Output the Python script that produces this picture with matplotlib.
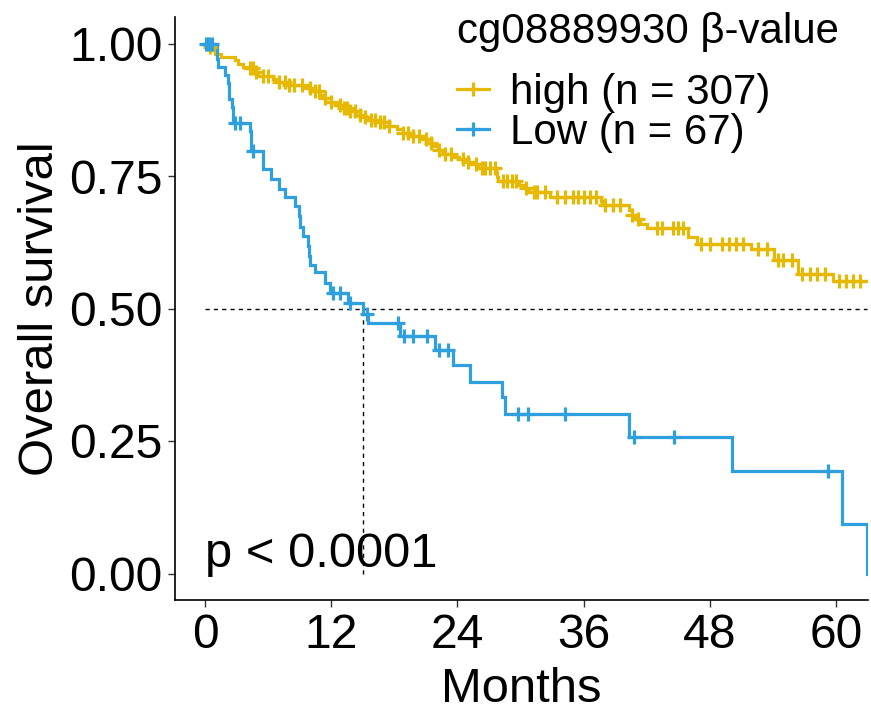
import numpy as np
import matplotlib
matplotlib.use("Agg")
import matplotlib.pyplot as plt
from matplotlib.lines import Line2D

plt.rcParams['font.family'] = ['Liberation Sans', 'DejaVu Sans']

# ---------------- data ----------------
legend_title = "cg08889930 β-value"
group_labels = ["high (n = 307)", "Low (n = 67)"]
group_colors = ["#E7B800", "#2E9FDF"]

high_times = [0, 0.3, 0.6, 1.0, 1.5, 2.9, 3.1, 3.6, 4.0, 4.8, 5.0, 6.5, 7.0, 8.0, 9.7,
              10.2, 10.9, 11.3, 12.0, 12.6, 13.1, 13.8, 14.4, 15.2, 15.7, 16.6, 17.5,
              18.3, 18.8, 19.6, 20.5, 21.1, 21.7, 22.2, 22.6, 23.5, 24.2, 25.0, 25.5,
              26.0, 27.7, 27.8, 27.9, 29.9, 30.4, 30.8, 32.8, 37.7, 37.8, 40.3, 40.6,
              40.9, 41.4, 42.0, 45.9, 46.8, 51.9, 54.1, 56.4, 59.7]
high_surv = [1.0, 0.993, 0.987, 0.980, 0.975, 0.968, 0.962, 0.956, 0.953, 0.946, 0.939,
             0.933, 0.927, 0.922, 0.916, 0.910, 0.903, 0.897, 0.890, 0.884, 0.878, 0.872,
             0.866, 0.861, 0.855, 0.851, 0.845, 0.838, 0.832, 0.826, 0.820, 0.813, 0.806,
             0.800, 0.792, 0.786, 0.782, 0.776, 0.772, 0.766, 0.757, 0.748, 0.740, 0.733,
             0.727, 0.720, 0.710, 0.703, 0.695, 0.686, 0.677, 0.668, 0.660, 0.652, 0.634,
             0.621, 0.612, 0.592, 0.565, 0.552]
high_censor = [0.2, 0.5, 4.3, 4.6, 4.9, 5.5, 6.0, 7.0, 7.6, 8.0, 8.5, 9.2, 10.0, 10.5,
               10.8, 11.4, 12.0, 12.8, 13.2, 13.5, 13.8, 14.3, 14.7, 15.2, 15.8, 16.2,
               16.6, 17.0, 17.5, 18.8, 19.3, 19.8, 20.4, 21.0, 21.5, 22.3, 22.8, 23.4,
               24.5, 25.0, 25.8, 26.3, 26.6, 27.1, 27.6, 28.3, 28.7, 29.2, 29.6, 30.5,
               31.3, 31.6, 32.3, 33.5, 34.2, 35.0, 35.5, 36.0, 36.6, 37.2, 38.0, 38.8,
               39.5, 40.6, 41.2, 43.0, 43.5, 44.5, 45.0, 45.5, 47.2, 48.0, 49.2, 49.8,
               50.5, 51.2, 52.6, 53.4, 54.5, 55.0, 55.8, 56.8, 57.5, 58.2, 59.0, 60.3,
               61.0, 61.6, 62.3]

low_times = [0, 1.1, 1.15, 1.2, 1.9, 2.2, 2.25, 2.3, 2.6, 2.7, 4.3, 4.35, 4.4, 5.5, 5.55,
             6.3, 7.0, 7.6, 8.55, 8.9, 9.0, 9.3, 9.8, 9.85, 10.0, 10.5, 11.4, 11.9, 13.6,
             15.0, 15.5, 18.5, 21.9, 23.6, 25.2, 28.2, 28.5, 40.3, 50.1, 60.6, 62.95]
low_surv = [1.0, 0.985, 0.970, 0.955, 0.940, 0.925, 0.910, 0.895, 0.880, 0.850, 0.834,
            0.816, 0.798, 0.780, 0.763, 0.744, 0.725, 0.710, 0.694, 0.675, 0.653, 0.637,
            0.618, 0.599, 0.583, 0.568, 0.549, 0.530, 0.511, 0.489, 0.472, 0.449, 0.422,
            0.393, 0.362, 0.333, 0.301, 0.258, 0.194, 0.094, 0.0]
low_censor = [0.1, 0.4, 0.7, 2.9, 3.3, 4.6, 12.2, 12.8, 13.8, 15.4, 18.4, 18.9, 19.8,
              21.1, 22.3, 23.1, 29.8, 30.7, 34.2, 40.8, 44.6, 59.2]

follow_up_end = 63.0
median_surv_level = 0.5
median_low_time = 15.0
pval_text = "p < 0.0001"
x_ticks = [0, 12, 24, 36, 48, 60]
y_ticks = [0.00, 0.25, 0.50, 0.75, 1.00]
x_label = "Months"
y_label = "Overall survival"

# ---------------- plot ----------------
W, H, DPI = 871, 713, 100
fig = plt.figure(figsize=(W / DPI, H / DPI), dpi=DPI)
ax = fig.add_axes([175 / W, 1 - 600 / H, (868 - 175) / W, (600 - 17) / H])

def px2pt(px):
    return px * 72.0 / DPI

LW = 2.3
MS = px2pt(14)
MEW = 2.3

def draw_km(times, surv, censor, color, extend_to=None):
    t = list(times)
    s = list(surv)
    if extend_to is not None:
        t.append(extend_to)
        s.append(s[-1])
    ax.step(t, s, where='post', color=color, lw=LW, solid_joinstyle='miter', zorder=3)
    t_arr = np.asarray(times)
    s_arr = np.asarray(surv)
    cs = [s_arr[np.searchsorted(t_arr, c, side='right') - 1] for c in censor]
    ax.plot(censor, cs, ls='none', marker='+', ms=MS, mew=MEW, color=color, zorder=4)

draw_km(high_times, high_surv, high_censor, group_colors[0], extend_to=follow_up_end)
draw_km(low_times, low_surv, low_censor, group_colors[1])

# median line
ax.plot([0, follow_up_end], [median_surv_level, median_surv_level], ls=(0, (3, 3)),
        color='black', lw=1.0, zorder=2)
ax.plot([median_low_time, median_low_time], [0, median_surv_level], ls=(0, (3, 3)),
        color='black', lw=1.0, zorder=2)

ax.set_xlim(-2.85, 63.05)
ax.set_ylim(-0.05, 1.05)
ax.set_xticks(x_ticks)
ax.set_yticks(y_ticks)
ax.set_yticklabels([f"{v:.2f}" for v in y_ticks])

tick_fs = px2pt(48)
ax.tick_params(axis='both', labelsize=tick_fs, length=5, width=1, color='#333333', pad=4)
for side in ['top', 'right']:
    ax.spines[side].set_visible(False)
for side in ['left', 'bottom']:
    ax.spines[side].set_linewidth(1.2)
    ax.spines[side].set_color('black')

ax.set_xlabel(x_label, fontsize=px2pt(49), labelpad=7)
ax.set_ylabel(y_label, fontsize=px2pt(49), labelpad=4)

ax.text(0, 0.035, pval_text, fontsize=px2pt(49), ha='left', va='center', zorder=5)

handles = [Line2D([0], [0], color=c, lw=LW, marker='+', ms=MS, mew=MEW)
           for c in group_colors]
leg = ax.legend(handles, group_labels, title=legend_title, loc='upper left',
                bbox_to_anchor=((457 - 175) / (868 - 175), 1.009), frameon=False,
                fontsize=px2pt(42), title_fontsize=px2pt(42), handlelength=0.75,
                handletextpad=0.5, labelspacing=0.0, borderpad=0.0, borderaxespad=0.0)
leg._legend_box.align = "left"
leg._legend_box.sep = 15

fig.savefig("out.png", dpi=DPI)
